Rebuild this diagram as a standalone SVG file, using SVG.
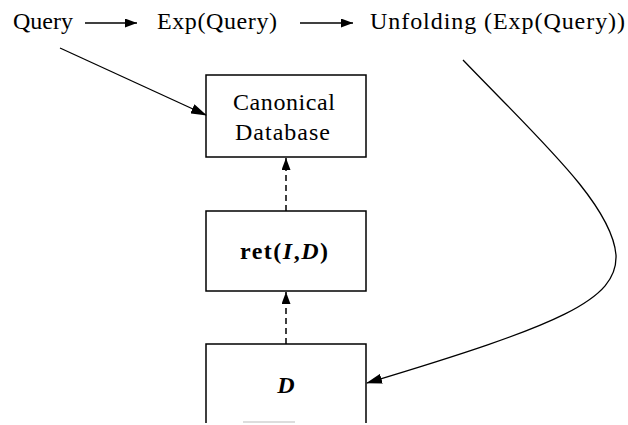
<svg xmlns="http://www.w3.org/2000/svg" width="628" height="425" viewBox="0 0 628 425">
<defs>
<style>
.t{font-family:"Liberation Serif","Times New Roman",serif;font-size:24px;fill:#000}
.box{fill:#fff;stroke:#000;stroke-width:1.5}
.ln{fill:none;stroke:#000;stroke-width:1.3}
.dash{fill:none;stroke:#000;stroke-width:1.5;stroke-dasharray:6 4}
</style>
<marker id="ah" markerWidth="12" markerHeight="9" refX="12" refY="4.5" orient="auto" markerUnits="userSpaceOnUse">
<path d="M0,0 L12,4.5 L0,9 Z" fill="#000"/>
</marker>
<marker id="ah2" markerWidth="16" markerHeight="10" refX="15" refY="5" orient="auto" markerUnits="userSpaceOnUse">
<path d="M0,0 L16,5 L0,10 Z" fill="#000"/>
</marker>
</defs>
<g id="query"><text class="t" x="13" y="29" textLength="60" lengthAdjust="spacing">Query</text></g>
<g id="exp"><text class="t" x="157" y="29" textLength="120" lengthAdjust="spacing">Exp(Query)</text></g>
<g id="unfolding"><text class="t" x="370" y="29" textLength="255" lengthAdjust="spacing">Unfolding (Exp(Query))</text></g>
<g id="canonical">
<rect class="box" x="206" y="75" width="160" height="82"/>
<text class="t" x="233" y="110" textLength="102" lengthAdjust="spacing">Canonical</text>
<text class="t" x="235" y="140" textLength="95" lengthAdjust="spacing">Database</text>
</g>
<g id="ret">
<rect class="box" x="206" y="211" width="160" height="80"/>
<text class="t" x="240" y="259" font-weight="bold" textLength="88" lengthAdjust="spacing">ret(<tspan font-style="italic">I</tspan>,<tspan font-style="italic">D</tspan>)</text>
</g>
<g id="d">
<path class="box" d="M206,423 V344 H366 V423"/>
<line x1="243" y1="422" x2="295" y2="422" stroke="#bbb" stroke-width="1"/>
<text class="t" x="286" y="393" text-anchor="middle" font-style="italic" font-weight="bold">D</text>
</g>
<g id="connectors">
<line class="ln" x1="85" y1="23" x2="137" y2="23" marker-end="url(#ah)"/>
<line class="ln" x1="300" y1="23" x2="353" y2="23" marker-end="url(#ah)"/>
<line class="ln" x1="60" y1="48" x2="206" y2="115" marker-end="url(#ah2)"/>
<line class="dash" x1="286" y1="211" x2="286" y2="158" marker-end="url(#ah)"/>
<line class="dash" x1="286" y1="344" x2="286" y2="292" marker-end="url(#ah)"/>
<path class="ln" d="M463,60 C540,140 612,205 616,255 C618,300 560,325 367,383" marker-end="url(#ah2)"/>
</g>
</svg>
